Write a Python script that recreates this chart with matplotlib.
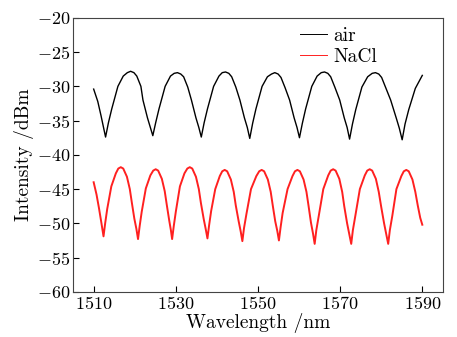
import matplotlib
matplotlib.use("Agg")
import matplotlib.pyplot as plt

plt.rcParams["font.family"] = "cmr10"
plt.rcParams["mathtext.fontset"] = "cm"
plt.rcParams["axes.formatter.use_mathtext"] = True

# air spectrum (wavelength nm, intensity dBm)
wl_air = [1510.0, 1511.0, 1511.8, 1512.4, 1512.9, 1513.6, 1514.4, 1515.9, 1517.2, 1518.2, 1519.0, 1519.8, 1520.5, 1521.5, 1522.0, 1523.1, 1523.8,
          1524.4, 1525.1, 1525.9, 1527.4, 1528.7, 1529.6, 1530.4, 1531.2, 1531.9, 1532.9, 1533.8, 1534.9, 1535.6,
          1536.2, 1536.9, 1537.7, 1539.2, 1540.5, 1541.3, 1542.1, 1542.9, 1543.6, 1544.6, 1545.6, 1546.7, 1547.4,
          1548.0, 1548.7, 1549.5, 1551.0, 1552.3, 1553.3, 1554.1, 1554.9, 1555.6, 1556.6, 1557.7, 1558.8, 1559.5,
          1560.1, 1560.8, 1561.6, 1563.1, 1564.4, 1565.4, 1566.2, 1567.0, 1567.7, 1568.7, 1569.9, 1571.0, 1571.7,
          1572.3, 1573.0, 1573.8, 1575.3, 1576.7, 1577.8, 1578.6, 1579.4, 1580.1, 1581.1, 1582.3, 1583.7, 1584.4,
          1585.1, 1585.8, 1586.7, 1588.3, 1590.0]
db_air = [-30.4, -32.2, -34.3, -36.0, -37.4, -35.3, -33.3, -30.0, -28.5, -28.0, -27.8, -28.0, -28.5, -30.0, -32.0, -34.6, -36.0,
          -37.2, -35.3, -33.3, -30.0, -28.5, -28.1, -28.0, -28.2, -28.6, -30.1, -32.0, -34.6, -36.0,
          -37.4, -35.3, -33.3, -30.0, -28.5, -28.0, -27.9, -28.1, -28.6, -30.1, -32.0, -34.6, -36.0,
          -37.6, -35.4, -33.3, -30.0, -28.6, -28.2, -28.0, -28.2, -28.7, -30.2, -32.0, -34.6, -36.0,
          -37.5, -35.4, -33.3, -30.0, -28.5, -28.0, -27.9, -28.1, -28.6, -30.1, -32.0, -34.6, -36.0,
          -37.7, -35.5, -33.4, -30.1, -28.6, -28.1, -28.0, -28.2, -28.7, -30.2, -32.0, -34.7, -36.1,
          -37.8, -35.5, -33.4, -30.3, -28.4]

# NaCl spectrum
wl_nacl = [1510.0, 1510.7, 1511.3, 1511.9,
           1512.4, 1512.8, 1513.3, 1514.3, 1515.4, 1516.0, 1516.6, 1517.2, 1518.1, 1518.8, 1519.3, 1519.9, 1520.4,
           1520.8, 1521.2, 1521.7, 1522.7, 1523.8, 1524.5, 1525.1, 1525.7, 1526.6, 1527.3, 1527.8, 1528.4, 1528.8,
           1529.1, 1529.5, 1530.0, 1531.0, 1532.1, 1532.8, 1533.4, 1534.0, 1534.9, 1535.6, 1536.1, 1536.8, 1537.3,
           1537.7, 1538.1, 1538.6, 1539.6, 1540.7, 1541.3, 1541.9, 1542.5, 1543.4, 1544.1, 1544.6, 1545.3, 1545.8,
           1546.2, 1546.6, 1547.2, 1548.3, 1549.6, 1550.3, 1550.9, 1551.5, 1552.4, 1553.1, 1553.6, 1554.2, 1554.7,
           1555.1, 1555.5, 1556.0, 1557.2, 1558.4, 1559.0, 1559.6, 1560.2, 1561.1, 1561.8, 1562.3, 1562.9, 1563.4,
           1563.8, 1564.2, 1564.8, 1565.9, 1567.1, 1567.7, 1568.3, 1568.9, 1569.8, 1570.5, 1571.0, 1571.7, 1572.2,
           1572.7, 1573.1, 1573.7, 1574.8, 1576.0, 1576.6, 1577.2, 1577.8, 1578.7, 1579.4, 1580.0, 1580.7, 1581.2,
           1581.7, 1582.1, 1582.7, 1583.7, 1584.9, 1585.5, 1586.1, 1586.7, 1587.6, 1588.3, 1588.9, 1589.5, 1590.0]
db_nacl = [-44.0, -45.8, -47.8, -50.0,
           -51.9, -50.0, -47.9, -44.6, -42.7, -42.0, -41.8, -42.0, -43.2, -45.0, -47.0, -49.3, -50.8,
           -52.3, -50.4, -48.3, -44.9, -43.0, -42.3, -42.1, -42.3, -43.5, -45.3, -47.3, -49.6, -51.0,
           -52.3, -50.4, -48.3, -44.6, -42.7, -42.0, -41.8, -42.0, -43.2, -45.0, -47.0, -49.4, -50.9,
           -52.2, -50.3, -48.2, -45.0, -43.1, -42.4, -42.2, -42.4, -43.6, -45.4, -47.4, -49.7, -51.2,
           -52.6, -50.7, -48.6, -45.0, -43.1, -42.4, -42.2, -42.4, -43.6, -45.4, -47.4, -49.7, -51.1,
           -52.5, -50.6, -48.5, -45.0, -43.1, -42.4, -42.2, -42.4, -43.6, -45.4, -47.4, -49.9, -51.5,
           -53.0, -51.0, -48.9, -45.0, -43.0, -42.3, -42.1, -42.3, -43.5, -45.4, -47.5, -50.0, -51.5,
           -53.0, -51.0, -48.9, -45.0, -43.0, -42.3, -42.1, -42.3, -43.5, -45.4, -47.6, -50.0, -51.5,
           -53.0, -51.0, -48.9, -45.0, -43.1, -42.4, -42.2, -42.4, -43.6, -45.4, -47.4, -49.2, -50.2]

xticks = [1510, 1530, 1550, 1570, 1590]
yticks = [-60, -55, -50, -45, -40, -35, -30, -25, -20]

fig = plt.figure(figsize=(4.57, 3.37), dpi=100)
ax = fig.add_axes([0.160, 0.134, 0.809, 0.813])

ax.plot(wl_air, db_air, color="black", lw=1.0, label="air")
ax.plot(wl_nacl, db_nacl, color="#ff2020", lw=1.4, label="NaCl")

ax.set_xlim(1505, 1595)
ax.set_ylim(-60, -20)
ax.set_xticks(xticks)
ax.set_yticks(yticks)
ax.tick_params(direction="in", length=4, width=0.8, labelsize=13, pad=2)
for s in ax.spines.values():
    s.set_linewidth(0.8)
    s.set_color("#444444")

ax.set_xlabel("Wavelength /nm", fontsize=14, labelpad=1)
ax.set_ylabel("Intensity /dBm", fontsize=14, labelpad=2)

leg = ax.legend(loc="upper left", bbox_to_anchor=(0.614, 0.967), frameon=False,
                fontsize=14, handlelength=1.4, handletextpad=0.3,
                labelspacing=0.18, borderpad=0, borderaxespad=0)
for h in leg.get_lines():
    h.set_linewidth(0.7)

fig.savefig("out.png", dpi=100)
